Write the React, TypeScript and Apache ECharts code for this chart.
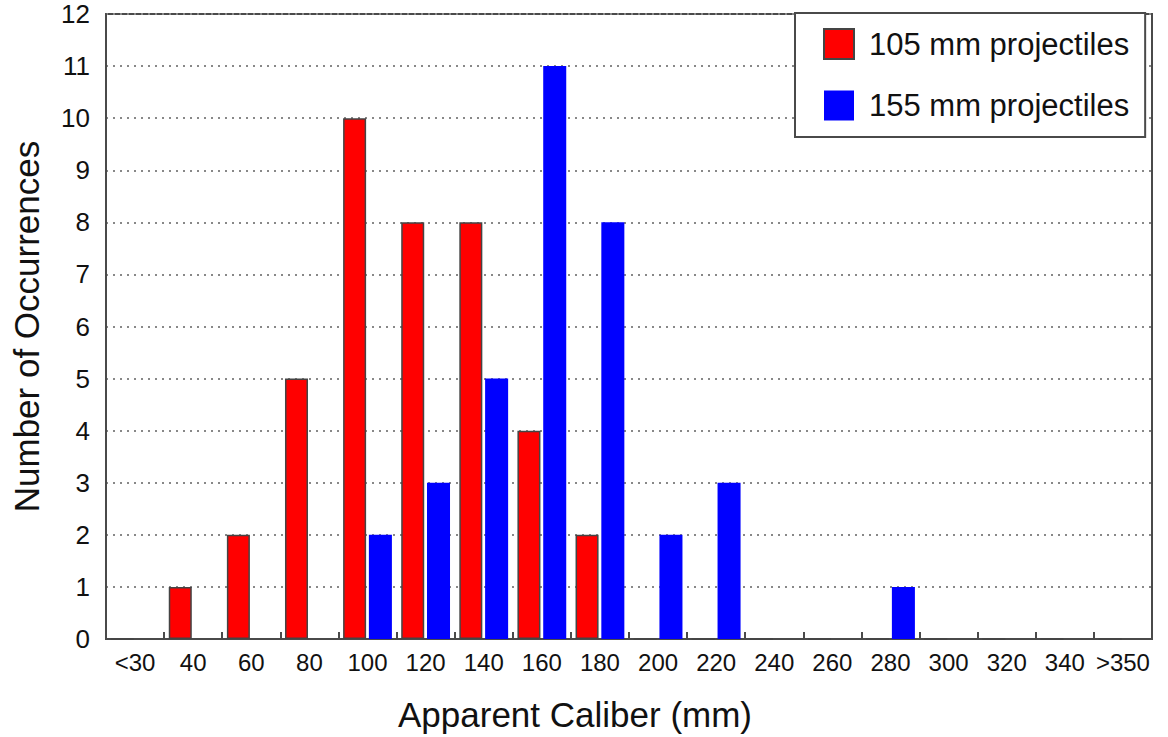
import React, { useEffect, useRef } from "react";
import * as echarts from "echarts";

const categories = ["<30", "40", "60", "80", "100", "120", "140", "160", "180", "200", "220", "240", "260", "280", "300", "320", "340", ">350"];
const series105 = [0, 1, 2, 5, 10, 8, 8, 4, 2, 0, 0, 0, 0, 0, 0, 0, 0, 0];
const series155 = [0, 0, 0, 0, 2, 3, 5, 11, 8, 2, 3, 0, 0, 1, 0, 0, 0, 0];
const seriesNames = ["105 mm projectiles", "155 mm projectiles"];

const FONT = "'Liberation Sans', Arial, sans-serif";

export default function App() {
  const ref = useRef<HTMLDivElement>(null);
  useEffect(() => {
    document.body.style.margin = "0";
    const chart = echarts.init(ref.current!, null, { renderer: "svg" });
    chart.setOption({
      animation: false,
      backgroundColor: "#ffffff",
      textStyle: { fontFamily: FONT },
      grid: {
        left: 106,
        right: 16,
        top: 14,
        bottom: 97,
        show: true,
        borderColor: "#4a4a4a",
        borderWidth: 2,
        backgroundColor: "transparent",
      },
      legend: {
        orient: "vertical",
        left: 795,
        top: 13,
        itemWidth: 30,
        itemHeight: 30,
        itemGap: 30,
        padding: [15, 16, 16, 28],
        backgroundColor: "#ffffff",
        borderColor: "#4a4a4a",
        borderWidth: 2,
        textStyle: { fontSize: 31, color: "#111", fontFamily: FONT, padding: [0, 0, 0, 10] },
        data: seriesNames.map((n) => ({ name: n, icon: "rect" })),
      },
      xAxis: {
        type: "category",
        data: categories,
        name: "Apparent Caliber (mm)",
        nameLocation: "middle",
        nameGap: 58,
        nameTextStyle: { fontSize: 35, color: "#111", fontFamily: FONT, padding: [0, 108, 0, 0] },
        axisLine: { lineStyle: { color: "#4a4a4a", width: 2 } },
        axisTick: { show: true, inside: true, length: 7, lineStyle: { color: "#4a4a4a", width: 2 } },
        axisLabel: { fontSize: 24, color: "#111", margin: 11, interval: 0, fontFamily: FONT },
      },
      yAxis: {
        type: "value",
        min: 0,
        max: 12,
        interval: 1,
        name: "Number of Occurrences",
        nameLocation: "middle",
        nameGap: 62,
        nameTextStyle: { fontSize: 35, color: "#111", fontFamily: FONT },
        axisLine: { show: true, lineStyle: { color: "#4a4a4a", width: 2 } },
        axisTick: { show: false },
        axisLabel: { fontSize: 26, color: "#111", margin: 16, fontFamily: FONT },
        splitLine: { show: true, lineStyle: { color: "#888", width: 2, type: [2, 5] } },
      },
      series: [
        {
          name: seriesNames[0],
          type: "bar",
          data: series105,
          barCategoryGap: "16%",
          barGap: "12%",
          itemStyle: { color: "#ff0000", borderColor: "#444", borderWidth: 1.5 },
        },
        {
          name: seriesNames[1],
          type: "bar",
          data: series155,
          itemStyle: { color: "#0000ff" },
        },
      ],
    });
    return () => chart.dispose();
  }, []);
  return <div ref={ref} style={{ width: 1168, height: 737 }} />;
}
